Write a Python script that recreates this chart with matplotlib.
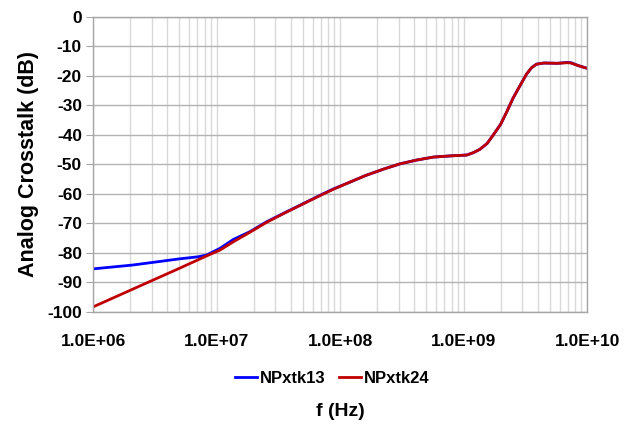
import numpy as np
import matplotlib.pyplot as plt
from matplotlib.ticker import FixedLocator, LogLocator, NullFormatter

# ----------------------------------------------------------------------------------------------------------------------
# Data (frequency in Hz, crosstalk in dB)
# ----------------------------------------------------------------------------------------------------------------------
freq_13 = [1.0e6, 2.09e6, 3.31e6, 5.01e6, 7.08e6, 8.32e6, 1.07e7, 1.37e7, 1.86e7,
           2.55e7, 3.47e7, 4.74e7, 6.92e7, 8.83e7, 1.2e8, 1.62e8, 2.24e8,
           3.05e8, 4.17e8, 5.69e8, 7.76e8, 1.06e9, 1.2e9, 1.35e9, 1.55e9,
           1.74e9, 2.0e9, 2.24e9, 2.51e9, 2.88e9, 3.24e9, 3.55e9, 3.89e9,
           4.47e9, 5.75e9, 6.92e9, 7.41e9, 8.51e9, 1.0e10]
xtk_13 = [-85.4, -84.1, -83.0, -82.0, -81.3, -80.7, -78.4, -75.4, -72.8,
          -69.4, -66.6, -63.8, -60.4, -58.3, -56.0, -53.7, -51.6,
          -49.8, -48.5, -47.5, -47.1, -46.8, -46.0, -44.9, -42.9,
          -40.0, -36.3, -32.1, -27.6, -23.1, -19.3, -17.2, -16.0,
          -15.6, -15.7, -15.4, -15.5, -16.5, -17.4]

freq_24 = [1.0e6, 2.09e6, 5.01e6, 8.32e6, 1.07e7, 1.37e7, 1.86e7,
           2.55e7, 3.47e7, 4.74e7, 6.92e7, 8.83e7, 1.2e8, 1.62e8, 2.24e8,
           3.05e8, 4.17e8, 5.69e8, 7.76e8, 1.06e9, 1.2e9, 1.35e9, 1.55e9,
           1.74e9, 2.0e9, 2.24e9, 2.51e9, 2.88e9, 3.24e9, 3.55e9, 3.89e9,
           4.47e9, 5.75e9, 6.92e9, 7.41e9, 8.51e9, 1.0e10]
xtk_24 = [-98.3, -92.3, -85.2, -81.0, -79.0, -76.2, -73.0,
          -69.6, -66.7, -63.9, -60.5, -58.4, -56.0, -53.7, -51.6,
          -49.8, -48.5, -47.5, -47.1, -46.8, -46.0, -44.9, -42.9,
          -40.0, -36.3, -32.1, -27.6, -23.1, -19.3, -17.2, -16.0,
          -15.6, -15.7, -15.5, -15.6, -16.5, -17.4]

x_ticks = [1e6, 1e7, 1e8, 1e9, 1e10]
x_tick_labels = ['1.0E+06', '1.0E+07', '1.0E+08', '1.0E+09', '1.0E+10']
y_ticks = list(range(-100, 1, 10))

# ----------------------------------------------------------------------------------------------------------------------
# Plot
# ----------------------------------------------------------------------------------------------------------------------
plt.rcParams['font.family'] = ['Liberation Sans', 'DejaVu Sans']
plt.rcParams['axes.unicode_minus'] = False
fig = plt.figure(figsize=(6.34, 4.25), dpi=100)
ax = fig.add_axes([0.1467, 0.266, 0.7793, 0.694])

ax.plot(freq_13, xtk_13, c='#0000ff', linewidth=2, label='NPxtk13')
ax.plot(freq_24, xtk_24, c='#c00000', linewidth=2, label='NPxtk24')

ax.set_xscale('log')
ax.set_xlim(1e6, 1e10)
ax.set_ylim(-100, 0)
ax.xaxis.set_major_locator(FixedLocator(x_ticks))
ax.set_xticklabels(x_tick_labels)
ax.xaxis.set_minor_locator(LogLocator(base=10, subs=np.arange(2, 10)))
ax.xaxis.set_minor_formatter(NullFormatter())
ax.set_yticks(y_ticks)

ax.grid(which='major', axis='y', color='#b3b3b3', linewidth=1)
ax.grid(which='both', axis='x', color='#d9d9d9', linewidth=1)
ax.set_axisbelow(True)

for s in ax.spines.values():
    s.set_color('#a6a6a6')
    s.set_linewidth(1)

ax.tick_params(axis='y', which='major', direction='out', length=5, color='#a6a6a6',
               labelsize=12.5, pad=3)
ax.tick_params(axis='x', which='major', direction='in', length=0, top=True, bottom=False,
               labelsize=12.5, pad=16)
ax.tick_params(axis='x', which='minor', length=0)
for lbl in ax.get_xticklabels() + ax.get_yticklabels():
    lbl.set_fontweight('bold')

ax.set_ylabel('Analog Crosstalk (dB)', fontsize=15.5, fontweight='bold', labelpad=6)
ax.set_xlabel('f (Hz)', fontsize=14, fontweight='bold', labelpad=39)

ax.legend(loc='upper center', bbox_to_anchor=(0.485, -0.15), ncol=2, frameon=False,
          prop={'weight': 'bold', 'size': 12}, handlelength=1.3, handletextpad=0.2,
          columnspacing=0.8)

plt.savefig('out.png', dpi=100)
